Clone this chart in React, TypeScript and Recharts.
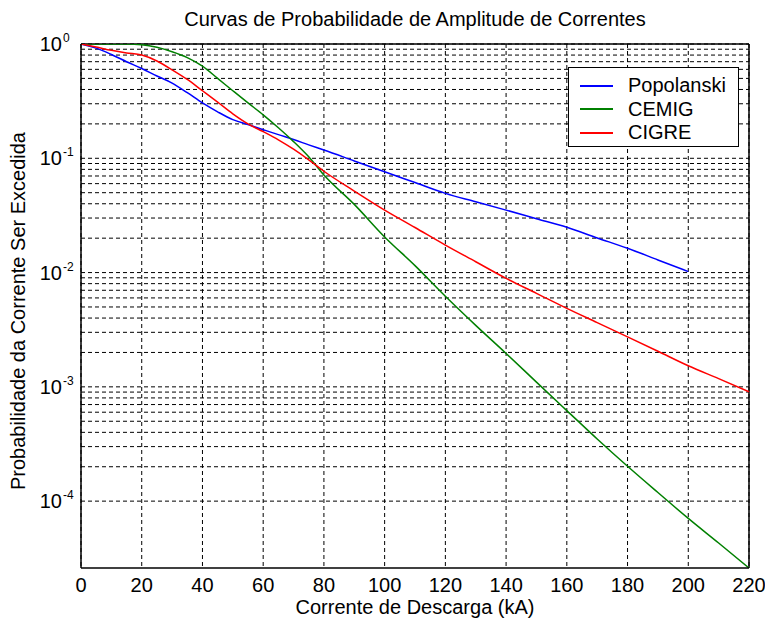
import React from 'react';
import { LineChart, Line, XAxis, YAxis, CartesianGrid, ReferenceLine } from 'recharts';

const currents = [0, 5, 10, 15, 20, 25, 30, 35, 40, 45, 50, 55, 60, 65, 70, 75, 80, 90, 100, 110, 120, 130, 140, 150, 160, 170, 180, 190, 200, 210, 220];
const popolanski = [1, 0.92, 0.81, 0.70, 0.61, 0.525, 0.455, 0.375, 0.305, 0.255, 0.218, 0.197, 0.178, 0.161, 0.146, 0.131, 0.118, 0.0948, 0.0762, 0.0613, 0.0493, 0.0417, 0.0352, 0.0296, 0.0249, 0.0201, 0.0163, 0.0129, 0.0102, null, null];
const cemig = [1, 1, 1, 1, 0.985, 0.935, 0.855, 0.76, 0.64, 0.5, 0.39, 0.305, 0.24, 0.185, 0.14, 0.103, 0.0714, 0.0395, 0.0205, 0.0115, 0.0062, 0.00345, 0.00196, 0.0011, 0.00062, 0.00035, 0.000202, 0.000119, 0.0000706, 0.000043, 0.000026];
const cigre = [1, 0.94, 0.88, 0.835, 0.8, 0.71, 0.595, 0.49, 0.39, 0.31, 0.245, 0.2, 0.171, 0.145, 0.12, 0.097, 0.077, 0.0517, 0.0352, 0.0248, 0.0174, 0.01244, 0.0089, 0.00658, 0.00486, 0.00365, 0.00274, 0.00205, 0.00153, 0.00118, 0.000906];

const xTicks = [0, 20, 40, 60, 80, 100, 120, 140, 160, 180, 200, 220];
const yTicks = [0.0001, 0.001, 0.01, 0.1, 1];
const yMinorMultipliers = [1, 2, 3, 4, 5, 6, 7, 8, 9];
const Y_MIN = 0.000026;
const Y_MAX = 1;

const title = 'Curvas de Probabilidade de Amplitude de Correntes';
const xLabel = 'Corrente de Descarga (kA)';
const yLabel = 'Probabilidade da Corrente Ser Excedida';

const series = [
  { key: 'popolanski', name: 'Popolanski', color: '#0000ff', values: popolanski },
  { key: 'cemig', name: 'CEMIG', color: '#008000', values: cemig },
  { key: 'cigre', name: 'CIGRE', color: '#ff0000', values: cigre },
];

const data = currents.map((c, i) => {
  const row: Record<string, number | null> = { current: c };
  series.forEach((s) => {
    row[s.key] = s.values[i];
  });
  return row;
});

const gridY = yTicks
  .flatMap((d) => yMinorMultipliers.map((m) => m * d))
  .filter((v) => v >= Y_MIN && v <= Y_MAX);

const FONT = '"Liberation Sans", Arial, Helvetica, sans-serif';
const W = 765;
const H = 625;

const YTick = (props: any) => {
  const { x, y, payload } = props;
  const exp = Math.round(Math.log10(payload.value));
  const x0 = x - 11;
  return (
    <g>
      <text x={x0} y={y + 7} textAnchor="end" fontSize={20} fontFamily={FONT} fill="#000">
        10
      </text>
      <text x={x0 + 1} y={y - 2} textAnchor="start" fontSize={12} fontFamily={FONT} fill="#000">
        {exp}
      </text>
    </g>
  );
};

const XLabel = (props: any) => {
  const vb = props.viewBox || {};
  return (
    <text x={vb.x + vb.width / 2} y={vb.y + 46} textAnchor="middle" fontSize={20} fontFamily={FONT} fill="#000">
      {xLabel}
    </text>
  );
};

const YLabel = (props: any) => {
  const vb = props.viewBox || {};
  const cx = 18;
  const cy = vb.y + vb.height / 2 + 5;
  return (
    <text
      x={cx}
      y={cy}
      transform={`rotate(-90, ${cx}, ${cy})`}
      textAnchor="middle"
      dominantBaseline="central"
      fontSize={20}
      fontFamily={FONT}
      fill="#000"
    >
      {yLabel}
    </text>
  );
};

export default function App() {
  return (
    <div style={{ position: 'absolute', left: 0, top: 0, width: W, height: H, background: '#fff' }}>
      <svg width={W} height={40} style={{ position: 'absolute', left: 0, top: 0 }}>
        <text x={415} y={26} textAnchor="middle" fontSize={20} fontFamily={FONT} fill="#000">
          {title}
        </text>
      </svg>
      <LineChart width={W} height={H} data={data} margin={{ top: 44, right: 16, left: 0, bottom: 0 }}>
        <CartesianGrid
          stroke="#000"
          strokeDasharray="4 3"
          strokeWidth={1}
          horizontalValues={gridY}
          verticalValues={xTicks}
        />
        <XAxis
          dataKey="current"
          type="number"
          domain={[0, 220]}
          ticks={xTicks}
          interval={0}
          height={57}
          tickLine={false}
          tickMargin={4}
          axisLine={{ stroke: '#000', strokeWidth: 1.5 }}
          tick={{ fontSize: 20, fontFamily: FONT, fill: '#000' }}
          label={<XLabel />}
        />
        <YAxis
          type="number"
          scale="log"
          domain={[Y_MIN, Y_MAX]}
          allowDataOverflow
          ticks={yTicks}
          interval={0}
          width={81}
          tickLine={false}
          axisLine={{ stroke: '#000', strokeWidth: 1.5 }}
          tick={<YTick />}
          label={<YLabel />}
        />
        <ReferenceLine y={Y_MAX} stroke="#000" strokeWidth={1.5} />
        <ReferenceLine x={220} stroke="#000" strokeWidth={1.5} />
        {series.map((s) => (
          <Line
            key={s.key}
            dataKey={s.key}
            name={s.name}
            stroke={s.color}
            strokeWidth={1.5}
            dot={false}
            type="monotone"
            isAnimationActive={false}
            connectNulls={false}
          />
        ))}
      </LineChart>
      <div
        style={{
          position: 'absolute',
          left: 568,
          top: 67,
          width: 171,
          height: 80,
          boxSizing: 'border-box',
          border: '1px solid #000',
          background: '#fff',
          padding: '6px 0 0 0',
          fontFamily: FONT,
          fontSize: 20,
        }}
      >
        {series.map((s) => (
          <div key={s.key} style={{ display: 'flex', alignItems: 'center', height: 23.5 }}>
            <div style={{ width: 33, height: 2, background: s.color, marginLeft: 11, marginRight: 15, flex: 'none' }} />
            <span style={{ lineHeight: '23px', color: '#000' }}>{s.name}</span>
          </div>
        ))}
      </div>
    </div>
  );
}
